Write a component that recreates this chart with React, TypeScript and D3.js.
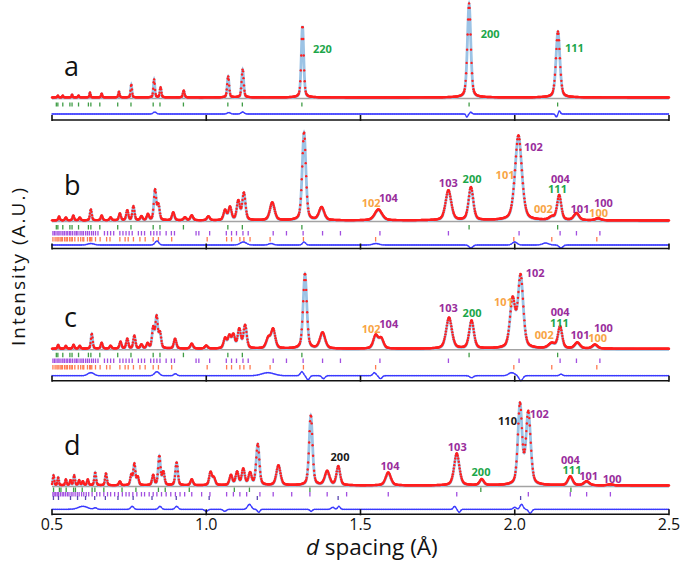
import React from 'react';
import * as d3 from 'd3';

// ---------- DATA ----------
const xTickValues = [0.5, 1.0, 1.5, 2.0, 2.5];
const xTickLabels = ['0.5', '1.0', '1.5', '2.0', '2.5'];
const panelLetters = ['a', 'b', 'c', 'd'];

// peaks: [d spacing (Å), intensity, optional FWHM (Å)]
const peaksA = [
  [0.519, 2], [0.535, 2], [0.565, 3], [0.586, 2], [0.623, 5], [0.661, 4], [0.717, 6], [0.757, 13],
  [0.831, 18], [0.852, 10], [0.927, 7], [1.071, 21], [1.118, 28], [1.312, 72], [1.852, 94], [2.14, 66],
];
const peaksB = [
  [0.523, 4], [0.545, 3], [0.569, 5], [0.59, 3], [0.626, 11], [0.661, 5], [0.69, 3], [0.72, 7],
  [0.744, 10], [0.764, 14], [0.79, 4], [0.811, 6], [0.834, 30], [0.845, 15], [0.893, 8], [0.931, 3],
  [0.953, 5], [1.007, 4], [1.061, 10], [1.077, 13], [1.104, 19], [1.122, 27], [1.214, 18, 0.018],
  [1.317, 88, 0.014], [1.374, 13, 0.02], [1.558, 11, 0.028], [1.785, 30, 0.022], [1.858, 33, 0.018],
  [2.012, 85, 0.026], [2.12, 3, 0.02], [2.144, 25, 0.016], [2.2, 7, 0.02], [2.27, 2, 0.02],
];
const peaksC = [
  [0.52, 4], [0.545, 3], [0.57, 4], [0.59, 3], [0.629, 15], [0.661, 6], [0.69, 3], [0.722, 7],
  [0.744, 10], [0.767, 13], [0.79, 4], [0.81, 5], [0.828, 20], [0.839, 31], [0.85, 15], [0.899, 10],
  [0.953, 5], [1.0, 3], [1.061, 10], [1.075, 12], [1.088, 13], [1.107, 19], [1.126, 23],
  [1.201, 10, 0.016], [1.217, 19, 0.016], [1.32, 75, 0.014], [1.377, 16, 0.02], [1.549, 13, 0.018],
  [1.567, 10, 0.018], [1.787, 31, 0.022], [1.86, 28, 0.018], [1.993, 48, 0.02], [2.019, 72, 0.02],
  [2.12, 5, 0.025], [2.147, 22, 0.016], [2.203, 6, 0.02], [2.26, 4, 0.02],
];
const peaksD = [
  [0.505, 10], [0.52, 8], [0.545, 6], [0.56, 5], [0.572, 10], [0.588, 5], [0.6, 4], [0.616, 6],
  [0.64, 13], [0.675, 12], [0.72, 4], [0.757, 10], [0.767, 21], [0.778, 8], [0.828, 10], [0.848, 29],
  [0.861, 13], [0.904, 23], [0.953, 6], [1.014, 13], [1.025, 7], [1.08, 10], [1.1, 13], [1.12, 16],
  [1.142, 12], [1.167, 41], [1.234, 20, 0.016], [1.339, 70, 0.013], [1.392, 14, 0.018],
  [1.428, 19, 0.014], [1.59, 13, 0.02], [1.812, 32, 0.02], [1.893, 6, 0.016], [2.017, 80, 0.016],
  [2.044, 72, 0.018], [2.18, 9, 0.018], [2.233, 4, 0.02], [2.31, 1, 0.02],
];

// difference-curve features: [d, amplitude, width]
const diffA = [[0.833, 2, 0.01], [1.073, 1.5, 0.01], [1.118, 2, 0.01], [1.845, -3, 0.006], [1.858, 2, 0.006], [2.135, -3, 0.006], [2.145, 3, 0.006]];
const diffB = [[0.626, 1.5, 0.02], [0.84, 4, 0.012], [1.12, 3, 0.02], [1.21, 1.5, 0.015], [1.317, 3, 0.01], [1.55, 1.5, 0.02], [1.858, -3, 0.012], [2.0, 3, 0.015], [2.1, 2, 0.02], [2.15, -3, 0.012]];
const diffC = [[0.626, 3, 0.02], [0.84, 4, 0.015], [0.9, 2, 0.01], [1.2, 3, 0.04], [1.31, 4, 0.01], [1.33, -4, 0.01], [1.38, -3, 0.01], [1.545, 3, 0.01], [1.565, -3, 0.01], [1.86, -2, 0.012], [1.99, 3, 0.02], [2.02, -5, 0.012], [2.15, 1.5, 0.01]];
const diffD = [[0.6, 3, 0.03], [0.64, 1.5, 0.01], [0.76, 3, 0.01], [0.85, 3, 0.01], [0.904, 3, 0.01], [1.0, -2, 0.01], [1.06, -2, 0.01], [1.14, 5, 0.012], [1.17, -3, 0.008], [1.34, -2, 0.008], [1.41, 2, 0.01], [1.43, 3, 0.008], [1.805, 3, 0.008], [1.82, -3, 0.008], [2.0, 2, 0.01], [2.022, 5, 0.01], [2.05, -4, 0.01]];

// reflection tick positions (Å)
const greenTicksABC = [0.514, 0.519, 0.535, 0.558, 0.565, 0.586, 0.618, 0.626, 0.655, 0.713, 0.756, 0.828, 0.85, 0.926, 1.07, 1.117, 1.31, 1.852, 2.139];
const purpleTicksBC = [0.503, 0.508, 0.513, 0.519, 0.523, 0.529, 0.535, 0.54, 0.546, 0.551, 0.557, 0.561, 0.567, 0.574, 0.579, 0.584, 0.591, 0.597, 0.602, 0.609, 0.615, 0.621, 0.628, 0.634, 0.641, 0.649, 0.67, 0.68, 0.69, 0.7, 0.72, 0.73, 0.74, 0.75, 0.76, 0.78, 0.79, 0.8, 0.82, 0.83, 0.84, 0.85, 0.87, 0.887, 0.897, 0.967, 0.976, 1.011, 1.065, 1.082, 1.098, 1.119, 1.136, 1.217, 1.26, 1.314, 1.377, 1.435, 1.563, 1.785, 2.014, 2.147, 2.2, 2.276];
const orangeTicksBC = [0.503, 0.51, 0.516, 0.52, 0.526, 0.53, 0.534, 0.541, 0.546, 0.55, 0.557, 0.562, 0.566, 0.574, 0.585, 0.593, 0.6, 0.603, 0.615, 0.622, 0.625, 0.629, 0.641, 0.656, 0.677, 0.688, 0.72, 0.737, 0.747, 0.764, 0.785, 0.802, 0.828, 0.845, 0.888, 1.003, 1.066, 1.082, 1.109, 1.122, 1.142, 1.207, 1.315, 1.549, 1.997, 2.12, 2.266];
const greenTicksD = [0.505, 0.524, 0.529, 0.546, 0.57, 0.576, 0.598, 0.63, 0.639, 0.668, 0.727, 0.772, 0.845, 0.867, 0.945, 1.091, 1.14, 1.336, 1.89, 2.182];
const purpleTicksD = [0.503, 0.507, 0.512, 0.517, 0.521, 0.527, 0.533, 0.538, 0.544, 0.55, 0.555, 0.562, 0.568, 0.575, 0.582, 0.588, 0.596, 0.603, 0.611, 0.619, 0.63, 0.645, 0.655, 0.668, 0.68, 0.69, 0.703, 0.715, 0.728, 0.74, 0.75, 0.762, 0.775, 0.79, 0.8, 0.815, 0.828, 0.84, 0.855, 0.87, 0.885, 0.9, 0.915, 0.93, 0.953, 0.985, 1.012, 1.066, 1.088, 1.109, 1.131, 1.174, 1.217, 1.277, 1.336, 1.392, 1.455, 1.59, 1.812, 2.044, 2.18, 2.233, 2.31];
const darkTicksD = [0.5047, 0.521, 0.56, 0.5828, 0.6087, 0.6384, 0.673, 0.7138, 0.763, 0.8242, 0.9028, 1.0094, 1.1655, 1.4275, 2.019];

// annotations: [text, d, level, phase]
const labelsA = [['220', 1.346, 45, 'g'], ['200', 1.8896, 60, 'g'], ['111', 2.163, 46.3, 'g']];
const labelsB = [['102', 2.03, 70, 'p'], ['101', 1.938, 42, 'o'], ['103', 1.754, 34.3, 'p'], ['200', 1.831, 38.3, 'g'], ['102', 1.504, 13.7, 'o'], ['104', 1.56, 19.3, 'p'], ['004', 2.1175, 38.5, 'p'], ['111', 2.108, 27.7, 'g'], ['002', 2.062, 8, 'o'], ['101', 2.181, 8.3, 'p'], ['100', 2.257, 14.3, 'p'], ['100', 2.241, 4, 'o']];
const labelsC = [['102', 2.0355, 72.3, 'p'], ['101', 1.933, 43.3, 'o'], ['103', 1.754, 37.6, 'p'], ['200', 1.831, 32, 'g'], ['102', 1.504, 16, 'o'], ['104', 1.561, 21.6, 'p'], ['004', 2.1165, 33, 'p'], ['111', 2.114, 22.6, 'g'], ['002', 2.065, 10, 'o'], ['101', 2.181, 10.6, 'p'], ['100', 2.257, 17.6, 'p'], ['100', 2.238, 7.3, 'o']];
const labelsD = [['200', 1.403, 25.3, 'k'], ['110', 1.946, 61, 'k'], ['102', 2.049, 67.7, 'p'], ['103', 1.783, 35.3, 'p'], ['104', 1.565, 16, 'p'], ['200', 1.86, 10, 'g'], ['004', 2.15, 22.5, 'p'], ['111', 2.155, 12, 'g'], ['101', 2.209, 6, 'p'], ['100', 2.285, 3.3, 'p']];

// ---------- STYLE / LAYOUT ----------
const LABEL_COLORS: Record<string, string> = { g: '#1ca64a', p: '#992d9c', o: '#f8a445', k: '#1a1a1a' };
const TICK_GREEN = '#3f9c45';
const TICK_PURPLE = '#a24fe0';
const TICK_ORANGE = '#ff7a50';
const TICK_DARK = '#5a46b0';
const OBS_RED = '#ff1f1f';
const CALC_BLUE = '#9cc3e5';
const DIFF_BLUE = '#3a3aff';
const FONT = '"Open Sans", "Noto Sans", sans-serif';

const PANELS = [
  { letter: 0, base: 98, letterY: 76, rows: [{ y: 102.5, h: 4, color: TICK_GREEN, ticks: greenTicksABC }], diffY: 114, axisY: 120, peaks: peaksA, w: 0.007, diff: diffA, labels: labelsA },
  { letter: 1, base: 221, letterY: 195, rows: [{ y: 225, h: 4.5, color: TICK_GREEN, ticks: greenTicksABC }, { y: 231, h: 4.5, color: TICK_PURPLE, ticks: purpleTicksBC }, { y: 237, h: 4.5, color: TICK_ORANGE, ticks: orangeTicksBC }], diffY: 245, axisY: 248.5, peaks: peaksB, w: 0.011, diff: diffB, labels: labelsB },
  { letter: 2, base: 349.3, letterY: 327, rows: [{ y: 352.7, h: 4.5, color: TICK_GREEN, ticks: greenTicksABC }, { y: 358.5, h: 4.5, color: TICK_PURPLE, ticks: purpleTicksBC }, { y: 365, h: 4.5, color: TICK_ORANGE, ticks: orangeTicksBC }], diffY: 375.7, axisY: 380.7, peaks: peaksC, w: 0.011, diff: diffC, labels: labelsC },
  { letter: 3, base: 486, letterY: 455, rows: [{ y: 487.5, h: 4.5, color: TICK_GREEN, ticks: greenTicksD }, { y: 492, h: 4.5, color: TICK_PURPLE, ticks: purpleTicksD }, { y: 496, h: 4, color: TICK_DARK, ticks: darkTicksD }], diffY: 509.3, axisY: 514.3, peaks: peaksD, w: 0.0105, diff: diffD, labels: labelsD },
];

const x = d3.scaleLinear().domain([0.5, 2.5]).range([52, 669]);

function profile(d: number, peaks: number[][], w: number) {
  const eta = 0.4;
  let s = 0;
  for (const p of peaks) {
    const f = p.length > 2 ? p[2] : w * p[0];
    const dx = d - p[0];
    if (Math.abs(dx) > 15 * f) continue;
    const z = (4 * dx * dx) / (f * f);
    s += p[1] * (eta / (1 + z) + (1 - eta) * Math.exp(-Math.LN2 * z));
  }
  return s;
}
function diffVal(d: number, feats: number[][]) {
  let s = 0;
  for (const f of feats) {
    const dx = (d - f[0]) / f[2];
    s += f[1] * Math.exp(-0.5 * dx * dx * 4);
  }
  return s;
}

const calcGrid = d3.range(0.5, 2.50001, 0.0005);
const obsGrid = d3.range(0.5, 2.50001, 0.0016);
const diffGrid = d3.range(0.5, 2.50001, 0.002);

function Panel({ cfg }: { cfg: typeof PANELS[number] }) {
  const y = d3.scaleLinear().domain([0, 100]).range([cfg.base, cfg.base - 100]);
  const yd = d3.scaleLinear().domain([0, 10]).range([cfg.diffY, cfg.diffY - 10]);
  const line = d3.line<number>().x((d) => x(d)).y((d) => y(profile(d, cfg.peaks, cfg.w)));
  const dline = d3.line<number>().x((d) => x(d)).y((d) => yd(diffVal(d, cfg.diff)));
  return (
    <g>
      <text x={64} y={cfg.letterY} fontSize={27} fontFamily={FONT} fill="#111">{panelLetters[cfg.letter]}</text>
      <line x1={x(0.5)} x2={x(2.5)} y1={cfg.base + 0.5} y2={cfg.base + 0.5} stroke="#a3a3a3" strokeWidth={1.5} />
      <path d={line(calcGrid) || ''} fill="none" stroke={CALC_BLUE} strokeWidth={2.8} />
      <g fill={OBS_RED}>
        {obsGrid.map((d, i) => (
          <circle key={i} cx={x(d)} cy={y(profile(d, cfg.peaks, cfg.w)) - 0.6} r={1.2} />
        ))}
      </g>
      {cfg.rows.map((row, ri) => (
        <g key={ri} stroke={row.color} strokeWidth={1.3}>
          {row.ticks.map((t, i) => (
            <line key={i} x1={x(t)} x2={x(t)} y1={row.y} y2={row.y + row.h} />
          ))}
        </g>
      ))}
      <path d={dline(diffGrid) || ''} fill="none" stroke={DIFF_BLUE} strokeWidth={1.3} />
      <g fill={DIFF_BLUE} opacity={0.6}>
        {diffGrid.filter((_, i) => i % 3 === 0).map((d, i) => (
          <circle key={i} cx={x(d)} cy={yd(diffVal(d, cfg.diff))} r={0.9} />
        ))}
      </g>
      <line x1={x(0.5)} x2={x(2.5)} y1={cfg.axisY} y2={cfg.axisY} stroke="#111" strokeWidth={1.6} />
      {xTickValues.map((t, i) => (
        <line key={i} x1={x(t)} x2={x(t)} y1={cfg.axisY - 5} y2={cfg.axisY + 1} stroke="#111" strokeWidth={1.6} />
      ))}
      {cfg.labels.map((l, i) => (
        <text key={i} x={x(l[1] as number)} y={y(l[2] as number)} fontSize={11} fontWeight="bold" fontFamily={FONT} fill={LABEL_COLORS[l[3] as string]}>{l[0]}</text>
      ))}
    </g>
  );
}

export default function App() {
  return (
    <svg width={685} height={563} style={{ position: 'absolute', left: 0, top: 0, background: '#fff' }}>
      <rect width={685} height={563} fill="#fff" />
      {PANELS.map((p, i) => <Panel key={i} cfg={p} />)}
      {xTickValues.map((t, i) => (
        <text key={i} x={x(t)} y={530} fontSize={16} fontFamily={FONT} textAnchor="middle" fill="#111">{xTickLabels[i]}</text>
      ))}
      <text x={306} y={555} fontSize={22.5} fontFamily={FONT} fill="#111">
        <tspan fontStyle="italic">d</tspan> spacing (Å)
      </text>
      <text transform="translate(25,267) rotate(-90)" textAnchor="middle" fontSize={19} fontFamily={FONT} fill="#111" textLength={158} lengthAdjust="spacing">Intensity (A.U.)</text>
    </svg>
  );
}
